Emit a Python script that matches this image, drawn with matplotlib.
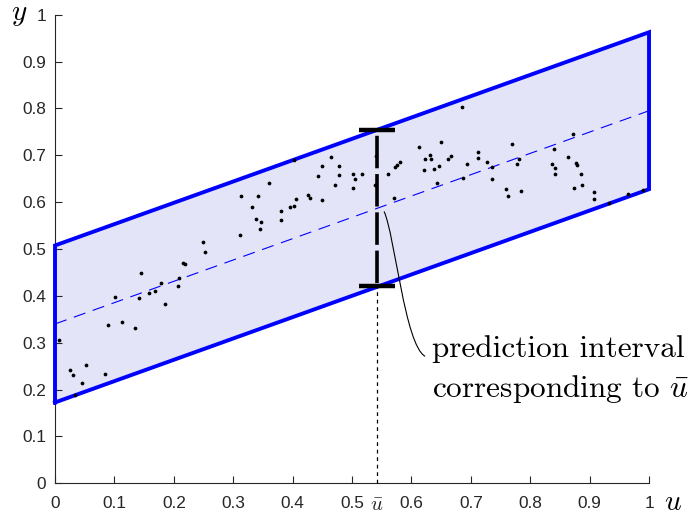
#!/usr/bin/env python3
import numpy as np
import matplotlib as mpl
mpl.use("Agg")
import matplotlib.pyplot as plt
from matplotlib.path import Path
from matplotlib.patches import PathPatch

plt.rcParams['mathtext.fontset'] = 'cm'

# observations (u, y)
u_data = [0.007, 0.025, 0.030, 0.034, 0.045, 0.052, 0.084, 0.089, 0.101, 0.113,
          0.135, 0.141, 0.144, 0.159, 0.168, 0.179, 0.186, 0.207, 0.209, 0.216,
          0.218, 0.249, 0.252,
          0.311, 0.313, 0.332, 0.338, 0.341, 0.345, 0.346, 0.361, 0.380, 0.380,
          0.395, 0.402, 0.403, 0.405, 0.426, 0.430, 0.443, 0.449, 0.449, 0.464,
          0.471, 0.478, 0.478, 0.501, 0.502, 0.505, 0.516, 0.538, 0.540, 0.560,
          0.571, 0.573, 0.575, 0.580,
          0.613, 0.621, 0.623, 0.631, 0.633, 0.638, 0.643, 0.646, 0.650, 0.662,
          0.666, 0.685, 0.686, 0.693, 0.712, 0.712, 0.728, 0.735, 0.736, 0.760,
          0.762, 0.769, 0.777, 0.781, 0.785, 0.837, 0.840, 0.841, 0.842, 0.864,
          0.872, 0.874, 0.877, 0.879, 0.886, 0.887, 0.907, 0.907, 0.933, 0.965,
          0.990]
y_data = [0.306, 0.242, 0.231, 0.189, 0.215, 0.253, 0.233, 0.338, 0.398, 0.344,
          0.331, 0.395, 0.448, 0.406, 0.411, 0.428, 0.382, 0.420, 0.437, 0.471,
          0.468, 0.515, 0.494,
          0.530, 0.614, 0.589, 0.563, 0.612, 0.543, 0.558, 0.641, 0.580, 0.562,
          0.590, 0.591, 0.690, 0.606, 0.615, 0.608, 0.655, 0.677, 0.605, 0.697,
          0.637, 0.677, 0.657, 0.659, 0.631, 0.650, 0.661, 0.637, 0.698, 0.659,
          0.609, 0.675, 0.680, 0.686,
          0.717, 0.669, 0.691, 0.700, 0.691, 0.671, 0.641, 0.678, 0.728, 0.692,
          0.698, 0.804, 0.652, 0.681, 0.708, 0.695, 0.686, 0.676, 0.650, 0.627,
          0.613, 0.725, 0.682, 0.692, 0.623, 0.682, 0.714, 0.672, 0.659, 0.697,
          0.745, 0.631, 0.684, 0.679, 0.661, 0.637, 0.621, 0.607, 0.599, 0.618,
          0.626]

# regression line and prediction band
band_u = [0.0, 1.0]
band_lo = [0.1725, 0.6275]
band_hi = [0.5075, 0.9625]
fit_line = [0.34, 0.795]

# prediction interval at u_bar
u_bar = 0.542
pi_lo = 0.421
pi_hi = 0.753

ticks = [0.0, 0.1, 0.2, 0.3, 0.4, 0.5, 0.6, 0.7, 0.8, 0.9, 1.0]
tick_labels = ['0', '0.1', '0.2', '0.3', '0.4', '0.5', '0.6', '0.7', '0.8',
               '0.9', '1']

# pointer from interval to the note (cubic bezier, data coords)
pointer = [(0.554, 0.580), (0.572, 0.530), (0.589, 0.295), (0.623, 0.271)]

BLUE = '#0000ff'
GREY = '#262626'

fig = plt.figure(figsize=(6.99, 5.15), dpi=100)
ax = fig.add_axes([0.0787, 0.0616, 0.8498, 0.9099])

ax.fill_between(band_u, band_lo, band_hi, color='#e4e4f8', lw=0, zorder=1)
outline_u = [band_u[0], band_u[1], band_u[1], band_u[0], band_u[0]]
outline_y = [band_lo[0], band_lo[1], band_hi[1], band_hi[0], band_lo[0]]
ax.plot(outline_u, outline_y, color=BLUE, lw=2.8, clip_on=False, zorder=4,
        solid_joinstyle='miter')
ax.plot(band_u, fit_line, color=BLUE, lw=0.8, dashes=(11, 7), zorder=3)

ax.plot(u_data, y_data, 'o', color='k', ms=2.7, mew=0, zorder=5)

# prediction interval marker
ax.plot([u_bar, u_bar], [0, pi_lo], color='k', lw=0.9, dashes=(3, 3),
        zorder=6, clip_on=False)
ax.plot([u_bar, u_bar], [pi_hi, pi_lo], color='k', lw=2.6,
        linestyle=(9.0, (9, 1.6)), dash_capstyle='butt', zorder=6)
cap = 0.031
for yv in (pi_lo, pi_hi):
    ax.plot([u_bar - cap, u_bar + cap], [yv, yv], color='k', lw=3.2,
            solid_capstyle='butt', zorder=6)

path = Path(pointer, [Path.MOVETO, Path.CURVE4, Path.CURVE4, Path.CURVE4])
ax.add_patch(PathPatch(path, fc='none', ec='k', lw=0.8, zorder=6))
ax.text(0.634, 0.269, 'prediction interval', family='cmr10', fontsize=22.5,
        ha='left', va='baseline')
ax.text(0.634, 0.185, r'corresponding to $\bar{u}$', family='cmr10',
        fontsize=22.5, ha='left', va='baseline')

ax.set_xlim(0, 1)
ax.set_ylim(0, 1)
ax.set_xticks(ticks)
ax.set_xticklabels(tick_labels)
ax.set_yticks(ticks)
ax.set_yticklabels(tick_labels)
for lab in ax.get_xticklabels() + ax.get_yticklabels():
    lab.set_family('Liberation Sans')
ax.tick_params(direction='in', length=5, width=0.8, colors=GREY, labelsize=12.4)
ax.tick_params(axis='x', pad=9)
ax.tick_params(axis='y', pad=6.5)
for side in ('top', 'right'):
    ax.spines[side].set_visible(False)
for side in ('left', 'bottom'):
    ax.spines[side].set_color(GREY)
    ax.spines[side].set_linewidth(0.8)

ax.text(u_bar, -0.046, r'$\bar{u}$', transform=ax.get_xaxis_transform(),
        fontsize=15, ha='center', va='center', color=GREY)

fig.text(19 / 699, 1 - 20 / 515, r'$y$', fontsize=21, ha='center',
         va='baseline')
fig.text(673 / 699, 1 - 510 / 515, r'$u$', fontsize=21, ha='center',
         va='baseline')

fig.savefig('out.png', dpi=100)
